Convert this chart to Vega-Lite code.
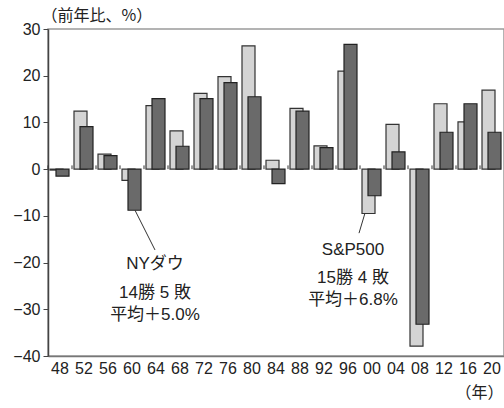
{
  "$schema": "https://vega.github.io/schema/vega-lite/v6.json",
  "width": 456,
  "height": 327,
  "autosize": {"type": "none"},
  "padding": {"left": 48, "top": 29, "right": 0, "bottom": 52},
  "config": {
    "view": {"stroke": "#9a9a9a", "strokeWidth": 1.5},
    "font": "Liberation Sans, Noto Sans CJK JP",
    "axis": {"labelFont": "Liberation Sans", "labelColor": "#222", "titleFont": "Noto Sans CJK JP", "titleColor": "#222", "titleFontWeight": "normal", "grid": false}
  },
  "datasets": {
    "bars": [
      {"year": "48", "series": "S&P500", "value": -0.2},
      {"year": "52", "series": "S&P500", "value": 12.4},
      {"year": "56", "series": "S&P500", "value": 3.2},
      {"year": "60", "series": "S&P500", "value": -2.4},
      {"year": "64", "series": "S&P500", "value": 13.6},
      {"year": "68", "series": "S&P500", "value": 8.2},
      {"year": "72", "series": "S&P500", "value": 16.2},
      {"year": "76", "series": "S&P500", "value": 19.8},
      {"year": "80", "series": "S&P500", "value": 26.4},
      {"year": "84", "series": "S&P500", "value": 1.9},
      {"year": "88", "series": "S&P500", "value": 13.0},
      {"year": "92", "series": "S&P500", "value": 5.0},
      {"year": "96", "series": "S&P500", "value": 21.0},
      {"year": "00", "series": "S&P500", "value": -9.5},
      {"year": "04", "series": "S&P500", "value": 9.6},
      {"year": "08", "series": "S&P500", "value": -37.9},
      {"year": "12", "series": "S&P500", "value": 14.0},
      {"year": "16", "series": "S&P500", "value": 10.1},
      {"year": "20", "series": "S&P500", "value": 16.9},
      {"year": "48", "series": "NYダウ", "value": -1.5},
      {"year": "52", "series": "NYダウ", "value": 9.1},
      {"year": "56", "series": "NYダウ", "value": 2.9},
      {"year": "60", "series": "NYダウ", "value": -8.8},
      {"year": "64", "series": "NYダウ", "value": 15.1},
      {"year": "68", "series": "NYダウ", "value": 4.9},
      {"year": "72", "series": "NYダウ", "value": 15.1},
      {"year": "76", "series": "NYダウ", "value": 18.5},
      {"year": "80", "series": "NYダウ", "value": 15.5},
      {"year": "84", "series": "NYダウ", "value": -3.1},
      {"year": "88", "series": "NYダウ", "value": 12.4},
      {"year": "92", "series": "NYダウ", "value": 4.6},
      {"year": "96", "series": "NYダウ", "value": 26.7},
      {"year": "00", "series": "NYダウ", "value": -5.7},
      {"year": "04", "series": "NYダウ", "value": 3.7},
      {"year": "08", "series": "NYダウ", "value": -33.2},
      {"year": "12", "series": "NYダウ", "value": 7.9},
      {"year": "16", "series": "NYダウ", "value": 14.0},
      {"year": "20", "series": "NYダウ", "value": 7.9}
    ],
    "notesNY": [
      {"year": "64", "value": -20.3, "text": "NYダウ"},
      {"year": "64", "value": -26.5, "text": "14勝 5 敗"},
      {"year": "64", "value": -31.2, "text": "平均＋5.0%"}
    ],
    "notesSP": [
      {"year": "96", "value": -17.3, "text": "S&P500"},
      {"year": "96", "value": -23.3, "text": "15勝 4 敗"},
      {"year": "96", "value": -28.0, "text": "平均＋6.8%"}
    ],
    "leaderNY": [{"from": "60", "to": "64", "v1": -8.8, "v2": -17.3}],
    "leaderSP": [{"from": "00", "to": "00", "v1": -9.4, "v2": -13.7}]
  },
  "encoding": {
    "x": {
      "field": "year", "type": "ordinal",
      "scale": {"domain": ["48","52","56","60","64","68","72","76","80","84","88","92","96","00","04","08","12","16","20"], "paddingInner": 0, "paddingOuter": 0},
      "axis": {"title": "（年）", "titleFontSize": 16, "titleAnchor": "end", "titleAlign": "right", "titleX": 455, "titleY": 36, "titleBaseline": "middle", "labelAngle": 0, "labelFontSize": 16, "labelPadding": 4, "ticks": false, "domainColor": "#777", "domainWidth": 1.5}
    },
    "y": {
      "field": "value", "type": "quantitative",
      "scale": {"domain": [-40, 30], "nice": false, "zero": false},
      "axis": {"values": [-40,-30,-20,-10,0,10,20,30], "title": "（前年比、%）", "titleFontSize": 16, "titleAngle": 0, "titleAlign": "left", "titleBaseline": "middle", "titleX": -7, "titleY": -14, "labelFontSize": 16, "labelPadding": 3, "tickSize": 5, "tickColor": "#444", "domainColor": "#444", "domainWidth": 1.5, "labelExpr": "datum.value < 0 ? '−' + abs(datum.value) : datum.label"}
    }
  },
  "layer": [
    {
      "data": {"name": "bars"},
      "transform": [{"filter": "datum.series == 'S&P500'"}],
      "mark": {"type": "bar", "width": 13, "xOffset": -3.5, "fill": "#d4d4d4", "stroke": "#333", "strokeWidth": 1.2}
    },
    {
      "data": {"name": "bars"},
      "transform": [{"filter": "datum.series == 'NYダウ'"}],
      "mark": {"type": "bar", "width": 13, "xOffset": 2.5, "fill": "#6a6a6a", "stroke": "#222", "strokeWidth": 1.2}
    },
    {
      "data": {"values": [{}]},
      "mark": {"type": "rule", "color": "#333", "strokeWidth": 1.5},
      "encoding": {"x": null, "y": {"datum": 0}}
    },
    {
      "data": {"name": "bars"},
      "transform": [{"filter": "datum.series == 'S&P500'"}],
      "mark": {"type": "rule", "color": "#333", "strokeWidth": 1},
      "encoding": {
        "x": {"field": "year", "type": "ordinal", "bandPosition": 0},
        "y": {"datum": 0},
        "y2": {"datum": 0.8}
      }
    },
    {
      "data": {"name": "leaderNY"},
      "mark": {"type": "rule", "color": "#333", "strokeWidth": 1, "xOffset": 3, "x2Offset": -1},
      "encoding": {
        "x": {"field": "from", "type": "ordinal"},
        "x2": {"field": "to"},
        "y": {"field": "v1", "type": "quantitative"},
        "y2": {"field": "v2"}
      }
    },
    {
      "data": {"name": "leaderSP"},
      "mark": {"type": "rule", "color": "#333", "strokeWidth": 1, "xOffset": -7, "x2Offset": -13},
      "encoding": {
        "x": {"field": "from", "type": "ordinal"},
        "x2": {"field": "to"},
        "y": {"field": "v1", "type": "quantitative"},
        "y2": {"field": "v2"}
      }
    },
    {
      "data": {"name": "notesNY"},
      "mark": {"type": "text", "fontSize": 17, "color": "#222", "align": "center", "baseline": "middle", "dx": -1},
      "encoding": {"text": {"field": "text"}}
    },
    {
      "data": {"name": "notesSP"},
      "mark": {"type": "text", "fontSize": 17, "color": "#222", "align": "center", "baseline": "middle", "dx": 5},
      "encoding": {"text": {"field": "text"}}
    }
  ]
}
